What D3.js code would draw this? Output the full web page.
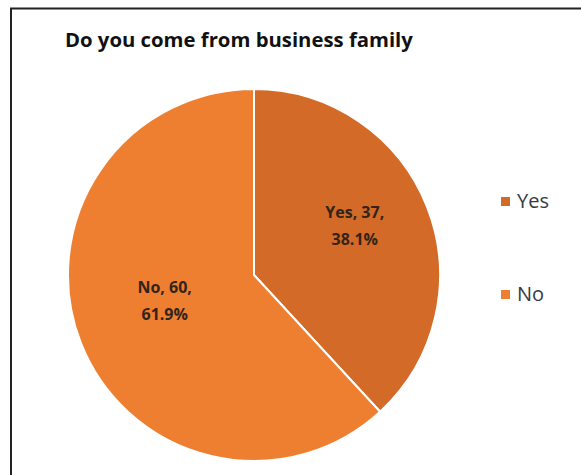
<!DOCTYPE html>
<html>
<head>
<meta charset="utf-8">
<script src="https://cdn.jsdelivr.net/npm/d3@7"></script>
<style>
  html, body { margin: 0; padding: 0; background: #fff; }
  svg { display: block; }
</style>
</head>
<body>
<svg id="chart" width="581" height="475"></svg>
<script>
const title = "Do you come from business family";
const categories = ["Yes", "No"];
const counts = [37, 60];
const percents = ["38.1%", "61.9%"];
const colors = ["#D46A27", "#EE7F31"];

const svg = d3.select("#chart");
const W = 581, H = 475;

// frame
svg.append("rect").attr("x", 0).attr("y", 0).attr("width", W).attr("height", H).attr("fill", "#fff");
svg.append("line").attr("x1", 10).attr("x2", W).attr("y1", 8.5).attr("y2", 8.5)
  .attr("stroke", "#222").attr("stroke-width", 2);
svg.append("line").attr("x1", 11).attr("x2", 11).attr("y1", 8).attr("y2", H)
  .attr("stroke", "#222").attr("stroke-width", 2);

// title
const fontFam = "'Open Sans', Lato, 'Liberation Sans', sans-serif";
const titleText = svg.append("text").attr("x", 65).attr("y", 47)
  .attr("font-family", fontFam).attr("font-weight", "bold").attr("font-size", 20)
  .attr("fill", "#111").text(title);
const tw = titleText.node().getComputedTextLength();
titleText.attr("font-size", 20 * 348 / tw);

// pie
const cx = 254, cy = 275, R = 186;
const pie = d3.pie().sort(null).value(d => d)(counts);
const arc = d3.arc().innerRadius(0).outerRadius(R);
const g = svg.append("g").attr("transform", `translate(${cx},${cy})`);
g.selectAll("path.slice").data(pie).join("path")
  .attr("class", "slice")
  .attr("d", arc)
  .attr("fill", (d, i) => colors[i])
  .attr("stroke", "#fff").attr("stroke-width", 2);

// labels
const labelR = [112, 93];
pie.forEach((d, i) => {
  const a = (d.startAngle + d.endAngle) / 2 + (i === 0 ? -0.08 : 0.09);
  const x = Math.sin(a) * labelR[i];
  const y = -Math.cos(a) * labelR[i];
  const t = g.append("text").attr("text-anchor", "middle")
    .attr("font-family", fontFam).attr("font-weight", "bold").attr("font-size", 16)
    .attr("fill", "#33241a");
  t.append("tspan").attr("x", x).attr("y", y - 8).text(`${categories[i]}, ${counts[i]},`);
  t.append("tspan").attr("x", x).attr("y", y + 19).text(percents[i]);
});

// legend
const legend = svg.append("g");
const legY = d3.scalePoint().domain(categories).range([208, 301]);
categories.forEach((c, i) => {
  const y = legY(c);
  legend.append("rect").attr("x", 501).attr("y", y - 11).attr("width", 9).attr("height", 9)
    .attr("fill", colors[i]);
  legend.append("text").attr("x", 517).attr("y", y)
    .attr("font-family", fontFam).attr("font-size", 20).attr("fill", "#333a44").text(c);
});
</script>
</body>
</html>
